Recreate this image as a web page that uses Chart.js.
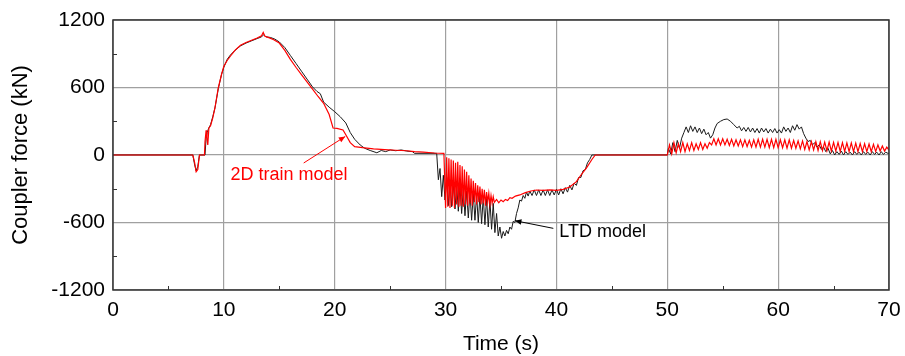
<!DOCTYPE html>
<html>
<head>
<meta charset="utf-8">
<script src="https://cdn.jsdelivr.net/npm/chart.js@4.4.1/dist/chart.umd.min.js"></script>
<style>
html,body{margin:0;padding:0;background:#fff;}
canvas{display:block;}
</style>
</head>
<body>
<canvas id="c" width="905" height="356"></canvas>
<script>
// ---- data (time in s, coupler force in kN) ----
const xTicks = [0, 10, 20, 30, 40, 50, 60, 70];
const yTicks = [-1200, -600, 0, 600, 1200];
const xMinorTicks = [5, 15, 25, 35, 45, 55, 65];
const yMinorTicks = [-900, -300, 300, 900];

const model2D = [
 [0,0],[7.2,0],[7.35,-60],[7.5,-150],[7.65,-130],[7.8,0],[8.25,0],[8.3,120],[8.4,220],[8.47,150],[8.55,90],[8.65,240],[8.8,260],[9.0,330],[9.2,420],[9.5,600],[9.8,720],[10.0,790],[10.3,840],[10.6,880],[11.0,930],[11.5,975],[12.0,1000],[12.5,1020],[13.0,1040],[13.4,1060],[13.55,1090],[13.7,1055],[14.0,1045],[14.5,1025],[15.0,995],[15.5,930],[16.0,850],[16.5,780],[17.0,715],[17.5,650],[18.0,585],[18.5,520],[19.0,460],[19.5,360],[19.85,240],[20.2,237],[20.75,222],[21.0,180],[21.4,110],[21.8,74],[22.5,65],[23.5,55],[24.5,48],[25.5,42],[26.5,38],[27.2,30],[28.0,25],[29.0,18],[29.85,15],
 [30.0,-470],[30.1,-20],[30.2,-460],[30.3,-30],[30.4,-470],[30.5,-40],[30.6,-450],[30.7,-50],[30.8,-470],[30.9,-70],[31.0,-440],[31.1,-60],[31.2,-460],[31.3,-90],[31.4,-450],[31.5,-100],[31.6,-460],[31.7,-130],[31.8,-440],[31.9,-150],[32.0,-450],[32.1,-180],[32.2,-430],[32.3,-210],[32.4,-450],[32.5,-230],[32.6,-420],[32.7,-250],[32.8,-440],[32.9,-270],[33.0,-420],[33.1,-280],[33.2,-440],[33.3,-300],[33.4,-430],[33.5,-310],[33.6,-450],[33.7,-330],[33.8,-420],[33.9,-340],[34.0,-440],[34.1,-360],[34.2,-430],[34.3,-370],[34.4,-420],
 [34.6,-395],[34.8,-425],[35.0,-400],[35.2,-415],[35.4,-395],[35.6,-405],[35.8,-380],[36.0,-385],[36.3,-365],[36.7,-355],[37.2,-335],[37.7,-320],[38.2,-311],[38.8,-315],[39.4,-310],[40.0,-315],[40.6,-305],[41.2,-285],[41.8,-237],[42.2,-180],[42.7,-116],[43.2,-40],[43.5,0],[50.0,0],
 [50.2,90],[50.4,10],[50.6,110],[50.8,20],[51.0,100],[51.2,30],[51.4,110],[51.6,30],[51.8,100],[52.0,40],[52.2,110],[52.4,40],[52.6,100],[52.8,50],[53.0,110],[53.2,50],[53.4,100],[53.6,60],[53.8,110],
 [54.0,90],[54.2,145],[54.4,90],[54.6,145],[54.8,90],[55.0,145],[55.2,90],[55.4,140],[55.6,85],[55.8,140],[56.0,80],[56.2,135],[56.4,80],[56.6,135],[56.8,75],[57.0,135],[57.2,75],[57.4,130],[57.6,70],[57.8,135],[58.0,70],[58.2,140],[58.4,70],[58.6,140],[58.8,70],[59.0,140],[59.2,65],[59.4,140],[59.6,65],[59.8,140],[60.0,65],[60.2,135],[60.4,65],[60.6,135],[60.8,60],[61.0,135],[61.2,60],[61.4,130],[61.6,60],[61.8,125],[62.0,55],[62.2,125],[62.4,50],[62.6,120],[62.8,45],[63.0,120],[63.2,45],[63.4,118],[63.6,40],[63.8,118],[64.0,40],[64.2,115],[64.4,38],[64.6,115],[64.8,35],[65.0,112],[65.2,35],[65.4,112],[65.6,32],[65.8,110],[66.0,32],[66.2,108],[66.4,30],[66.6,108],[66.8,30],[67.0,105],[67.2,30],[67.4,102],[67.6,30],[67.8,100],[68.0,30],[68.2,98],[68.4,30],[68.6,95],[68.8,30],[69.0,90],[69.2,35],[69.4,80],[69.6,35],[69.8,70],[70.0,44]
];

const modelLTD = [
 [0,0],[7.2,0],[7.35,-80],[7.5,-140],[7.65,-100],[7.8,0],[8.3,0],[8.4,150],[8.5,200],[8.6,230],[8.8,270],[9.0,340],[9.2,420],[9.5,590],[9.8,720],[10.0,780],[10.3,850],[10.6,890],[11.0,930],[11.5,970],[12.0,995],[12.5,1015],[13.0,1035],[13.4,1050],[13.6,1070],[13.8,1050],[14.2,1045],[14.6,1030],[15.0,1005],[15.5,955],[16.0,885],[16.5,815],[17.0,745],[17.5,675],[18.0,605],[18.4,565],[18.7,545],[19.0,470],[19.5,425],[20.0,385],[20.5,340],[21.0,285],[21.4,200],[21.8,140],[22.3,89],[22.7,60],[23.2,40],[23.8,20],[24.2,40],[24.6,30],[25.0,45],[25.5,38],[26.0,45],[26.5,35],[27.0,30],[27.2,15],[29.2,15],
 [29.35,-220],[29.5,-120],[29.65,-370],[29.8,-180],[29.95,-400],[30.1,-200],[30.25,-450],[30.4,-220],[30.55,-460],[30.7,-250],[30.85,-480],[31.0,-260],[31.15,-500],[31.3,-280],[31.45,-520],[31.6,-300],[31.75,-540],[31.9,-320],[32.05,-560],[32.2,-330],[32.35,-580],[32.5,-340],[32.65,-580],[32.8,-350],[32.95,-600],[33.1,-360],[33.25,-610],[33.4,-370],[33.55,-620],[33.7,-380],[33.85,-640],[34.0,-400],[34.15,-660],[34.3,-430],[34.45,-690],[34.6,-520],[34.75,-720],[34.9,-640],[35.05,-740],[35.2,-680],[35.35,-720],[35.5,-670],[35.65,-700],[35.8,-640],[35.95,-660],[36.1,-590],[36.25,-600],[36.4,-520],[36.55,-470],[36.7,-400],[36.85,-410],[37.0,-360],[37.15,-385],[37.3,-330],[37.45,-365],[37.6,-320],[37.8,-360],[38.0,-310],[38.2,-360],[38.4,-310],[38.6,-360],[38.8,-310],[39.0,-360],[39.2,-310],[39.4,-360],[39.6,-310],[39.8,-355],[40.0,-305],[40.2,-355],[40.4,-300],[40.6,-345],[40.8,-290],[41.0,-330],[41.2,-270],[41.4,-310],[41.6,-250],[41.8,-270],[42.0,-200],[42.2,-200],[42.4,-140],[42.6,-130],[42.8,-70],[43.0,-40],[43.2,0],[50.0,0],
 [50.1,60],[50.3,10],[50.5,110],[50.7,30],[50.9,130],[51.1,60],[51.3,150],[51.5,200],[51.7,250],[51.9,200],[52.1,260],[52.3,210],[52.5,250],[52.7,200],[52.9,240],[53.1,190],[53.3,230],[53.5,180],[53.7,200],[53.9,150],[54.1,180],[54.3,240],[54.5,280],[54.8,300],[55.1,315],[55.4,320],[55.7,300],[56.0,270],[56.3,240],[56.5,255],[56.7,215],[56.9,245],[57.1,210],[57.3,245],[57.5,205],[57.7,240],[57.9,200],[58.1,235],[58.3,195],[58.5,240],[58.7,205],[58.9,235],[59.1,195],[59.3,230],[59.5,200],[59.7,235],[59.9,195],[60.1,225],[60.3,195],[60.5,250],[60.7,210],[60.9,240],[61.1,200],[61.3,260],[61.5,220],[61.7,270],[61.9,230],[62.1,250],[62.3,190],[62.5,150],[62.7,120],[62.9,130],[63.1,90],[63.3,110],[63.5,70],[63.7,90],[63.9,50],[64.1,70],[64.3,30],[64.5,60],[64.7,10],[64.9,40],[65.1,0],[65.3,30],[65.5,5],[65.7,35],[65.9,0],[66.1,30],[66.3,5],[66.5,25],[66.7,0],[66.9,30],[67.1,5],[67.3,25],[67.5,0],[67.7,30],[67.9,5],[68.1,25],[68.3,0],[68.5,30],[68.7,5],[68.9,25],[69.1,0],[69.3,30],[69.5,5],[69.7,25],[70.0,10]
];

// ---- styling / annotations ----
const FONT = 'Liberation Sans, Arial, sans-serif';
const notes = [
  {text: '2D train model', color: '#ff0000', tx: 10.6, ty: -178, align: 'left', from: [17.2, -71], to: [20.95, 165]},
  {text: 'LTD model', color: '#000000', tx: 40.26, ty: -682, align: 'left', from: [39.72, -652], to: [36.26, -584]}
];

const decor = {
  id: 'decor',
  afterDatasetsDraw(chart) {
    const {ctx, chartArea: a, scales: {x, y}} = chart;
    ctx.save();
    // frame
    ctx.strokeStyle = '#333';
    ctx.lineWidth = 1.5;
    ctx.strokeRect(a.left, a.top, a.right - a.left, a.bottom - a.top);
    // minor inside ticks
    ctx.lineWidth = 1;
    ctx.strokeStyle = '#333';
    ctx.beginPath();
    xMinorTicks.forEach(v => { const px = Math.round(x.getPixelForValue(v)) + 0.5; ctx.moveTo(px, a.bottom); ctx.lineTo(px, a.bottom - 4); });
    yMinorTicks.forEach(v => { const py = Math.round(y.getPixelForValue(v)) + 0.5; ctx.moveTo(a.left, py); ctx.lineTo(a.left + 4, py); });
    ctx.stroke();
    // annotations
    ctx.font = '18px ' + FONT;
    ctx.textBaseline = 'middle';
    notes.forEach(n => {
      ctx.fillStyle = n.color;
      ctx.strokeStyle = n.color;
      ctx.textAlign = n.align;
      ctx.fillText(n.text, x.getPixelForValue(n.tx), y.getPixelForValue(n.ty));
      const x0 = x.getPixelForValue(n.from[0]), y0 = y.getPixelForValue(n.from[1]);
      const x1 = x.getPixelForValue(n.to[0]), y1 = y.getPixelForValue(n.to[1]);
      ctx.lineWidth = 1;
      ctx.beginPath(); ctx.moveTo(x0, y0); ctx.lineTo(x1, y1); ctx.stroke();
      const ang = Math.atan2(y1 - y0, x1 - x0), L = 7, W = 0.4;
      ctx.beginPath();
      ctx.moveTo(x1, y1);
      ctx.lineTo(x1 - L * Math.cos(ang - W), y1 - L * Math.sin(ang - W));
      ctx.lineTo(x1 - L * Math.cos(ang + W), y1 - L * Math.sin(ang + W));
      ctx.closePath(); ctx.fill();
    });
    ctx.restore();
  }
};

const toXY = arr => arr.map(([t, f]) => ({x: t, y: f}));

new Chart(document.getElementById('c'), {
  type: 'scatter',
  data: {
    datasets: [
      {label: '2D train model', data: toXY(model2D), showLine: true, borderColor: '#ff0000', borderWidth: 1.2, pointRadius: 0, fill: false},
      {label: 'LTD model', data: toXY(modelLTD), showLine: true, borderColor: '#1a1a1a', borderWidth: 1, pointRadius: 0, fill: false}
    ]
  },
  options: {
    responsive: false,
    animation: false,
    layout: {padding: {top: 20, right: 16, bottom: 0, left: 0}},
    plugins: {legend: {display: false}, tooltip: {enabled: false}},
    scales: {
      x: {
        type: 'linear', min: 0, max: 70,
        afterBuildTicks: s => { s.ticks = xTicks.map(v => ({value: v})); },
        ticks: {padding: 8, color: '#000', font: {family: FONT, size: 21}, maxRotation: 0, callback: v => String(v)},
        grid: {color: '#a0a0a0', lineWidth: 1.2, drawTicks: false},
        border: {display: false},
        title: {display: true, text: 'Time (s)', color: '#000', font: {family: FONT, size: 21, lineHeight: 1.15}, padding: {top: 0, bottom: 0}},
        afterFit: s => { s.height = 66; s.paddingLeft = 0; s.paddingRight = 0; }
      },
      y: {
        type: 'linear', min: -1200, max: 1200,
        afterBuildTicks: s => { s.ticks = yTicks.map(v => ({value: v})); },
        ticks: {padding: 8, color: '#000', font: {family: FONT, size: 21}, callback: v => String(v)},
        grid: {color: '#a0a0a0', lineWidth: 1.2, drawTicks: false},
        border: {display: false},
        title: {display: true, text: 'Coupler force (kN)', color: '#000', font: {family: FONT, size: 22, lineHeight: 1.9}, padding: {top: 0, bottom: 0}},
        afterFit: s => { s.width = 113; s.paddingTop = 0; s.paddingBottom = 0; }
      }
    }
  },
  plugins: [decor]
});
</script>
</body>
</html>
